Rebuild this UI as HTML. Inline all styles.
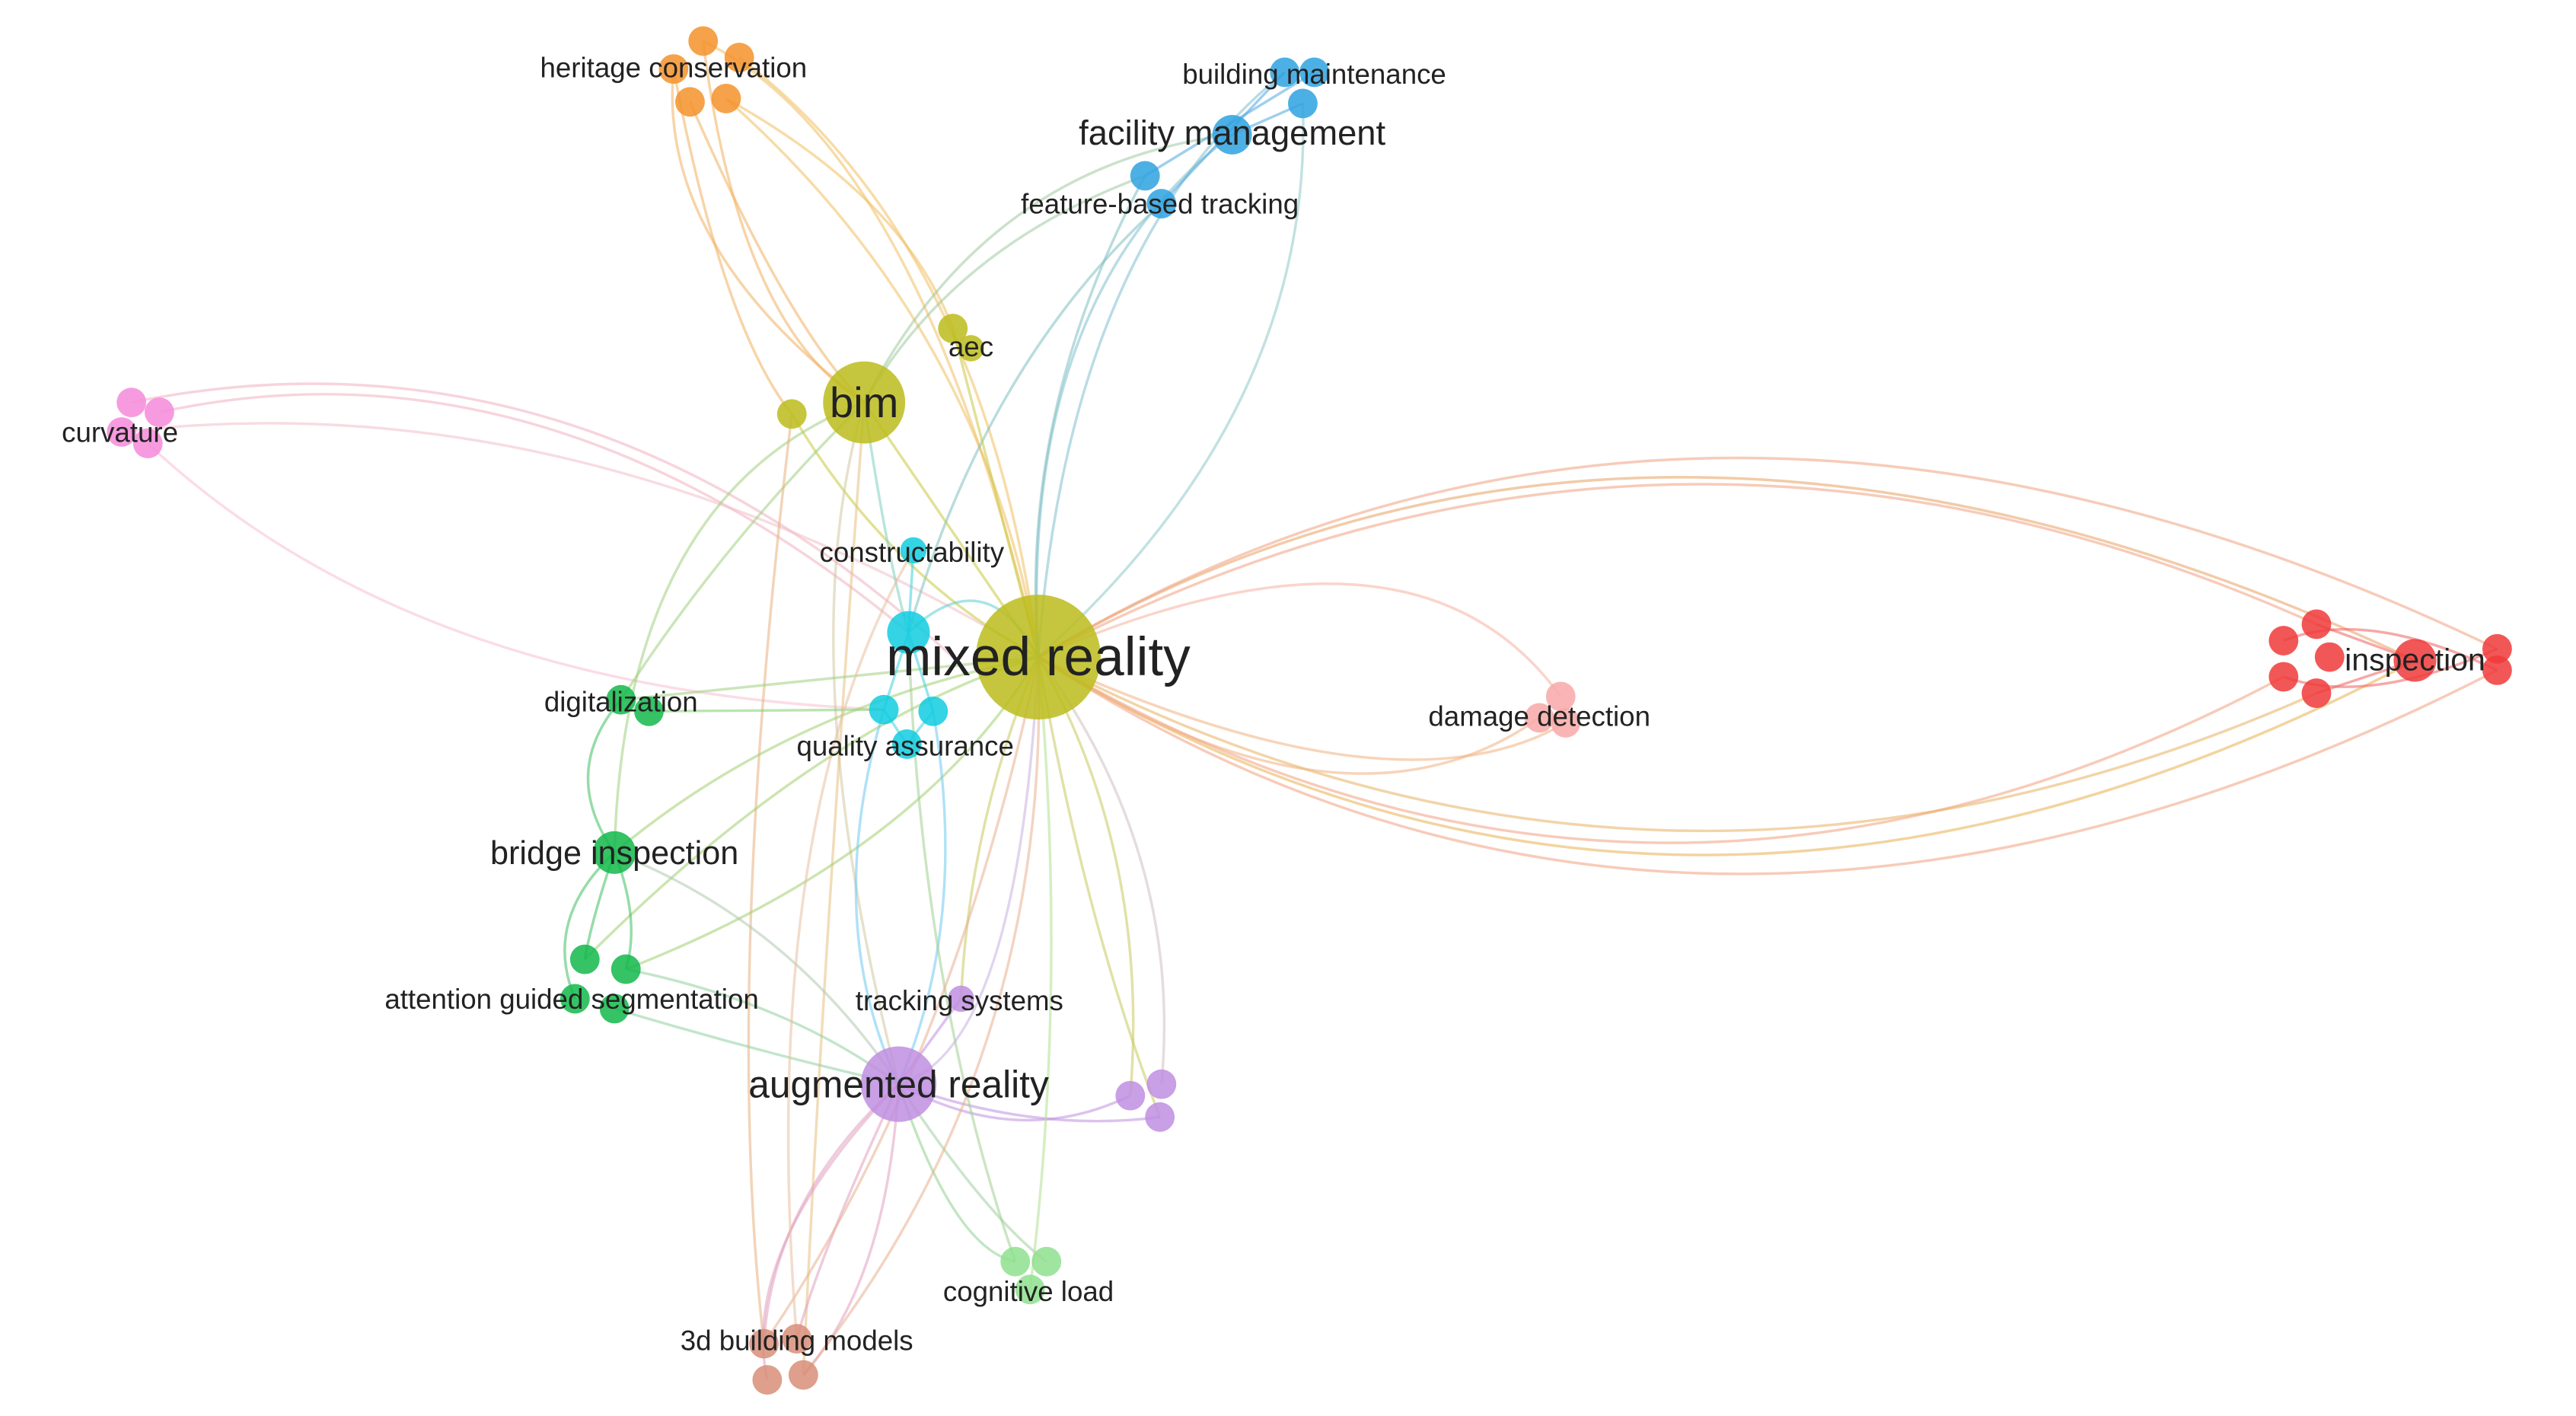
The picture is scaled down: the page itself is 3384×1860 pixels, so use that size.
<!DOCTYPE html>
<html><head><meta charset="utf-8"><style>
html,body{margin:0;padding:0;background:#fff;}
svg{display:block;}
text{font-family:"Liberation Sans",sans-serif;fill:#222;}
</style></head><body>
<svg width="3384" height="1860" viewBox="0 0 1568 862" preserveAspectRatio="none" xmlns="http://www.w3.org/2000/svg">
<g fill="none" stroke-width="1.6" stroke-opacity="0.55">
<path d="M632,400 Q1000,180 1470,402" stroke="#e8a060"/>
<path d="M632,400 Q1010,200 1410,380" stroke="#f0a080"/>
<path d="M632,400 Q1020,640 1470,402" stroke="#e8b050"/>
<path d="M632,400 Q1000,620 1390,412" stroke="#f0a080"/>
<path d="M632,400 Q1010,600 1410,422" stroke="#e8b060"/>
<path d="M632,400 Q1030,160 1520,395" stroke="#f0a080"/>
<path d="M632,400 Q1030,660 1520,408" stroke="#f0a080"/>
<path d="M632,400 Q860,300 950,424" stroke="#f5b0a0"/>
<path d="M632,400 Q820,520 937,437" stroke="#f0b080"/>
<path d="M632,400 Q850,500 953,440" stroke="#f0b080"/>
<path d="M1390,390 Q1440,370 1520,408" stroke="#f06060"/>
<path d="M1390,412 Q1440,430 1520,395" stroke="#f06060"/>
<path d="M1410,380 L1470,402" stroke="#f06060"/>
<path d="M1410,422 L1470,402" stroke="#f06060"/>
<path d="M80,245 Q350,190 580,400" stroke="#f0b0c0"/>
<path d="M97,251 Q330,200 553,385" stroke="#f0b0c0"/>
<path d="M90,270 Q250,420 538,432" stroke="#f8c0d0"/>
<path d="M74,263 Q350,230 632,400" stroke="#f0c0c8"/>
<path d="M428,25 Q450,200 526,245" stroke="#f0b060"/>
<path d="M450,35 Q600,150 632,400" stroke="#f0c060"/>
<path d="M410,42 Q440,200 482,252" stroke="#f0b060"/>
<path d="M420,62 Q480,200 526,245" stroke="#f0b060"/>
<path d="M442,60 Q600,200 632,400" stroke="#f0c060"/>
<path d="M442,60 Q550,120 580,200" stroke="#f0c060"/>
<path d="M428,25 Q560,90 632,400" stroke="#f0c060"/>
<path d="M410,42 Q400,150 526,245" stroke="#f0b060"/>
<path d="M782,44 Q650,150 632,400" stroke="#80c0d0"/>
<path d="M793,63 Q800,250 632,400" stroke="#90c8c8"/>
<path d="M750,82 Q620,180 632,400" stroke="#80c0d0"/>
<path d="M697,107 Q620,250 632,400" stroke="#80c0c0"/>
<path d="M707,124 Q600,220 553,385" stroke="#80c0c0"/>
<path d="M697,107 Q580,150 526,245" stroke="#a0c8a0"/>
<path d="M750,82 Q600,100 526,245" stroke="#a0c8a0"/>
<path d="M697,107 L800,44" stroke="#50a8e0"/>
<path d="M707,124 L782,44" stroke="#50a8e0"/>
<path d="M750,82 L793,63" stroke="#50a8e0"/>
<path d="M526,245 L632,400" stroke="#c8c840"/>
<path d="M482,252 Q540,350 632,400" stroke="#c8c840"/>
<path d="M580,200 L632,400" stroke="#c8c840"/>
<path d="M526,245 Q380,300 374,519" stroke="#a0d080"/>
<path d="M526,245 Q480,400 547,660" stroke="#d0c8a0"/>
<path d="M526,245 Q540,340 553,385" stroke="#80d0c0"/>
<path d="M526,245 Q440,330 378,426" stroke="#a0d080"/>
<path d="M482,252 Q440,600 465,818" stroke="#e8b080"/>
<path d="M526,245 Q500,600 489,837" stroke="#e8c080"/>
<path d="M378,426 L632,400" stroke="#a0d080"/>
<path d="M395,433 L538,432" stroke="#80d070"/>
<path d="M374,519 Q480,430 632,400" stroke="#a0d070"/>
<path d="M356,584 Q500,440 632,400" stroke="#a0d070"/>
<path d="M381,590 Q560,520 632,400" stroke="#a0d070"/>
<path d="M374,519 Q340,470 378,426" stroke="#40c060"/>
<path d="M374,519 Q330,560 350,608" stroke="#40c060"/>
<path d="M374,519 Q360,560 356,584" stroke="#40c060"/>
<path d="M374,519 Q390,560 381,590" stroke="#40c060"/>
<path d="M374,614 Q460,640 547,660" stroke="#90d0a0"/>
<path d="M374,519 Q480,560 547,660" stroke="#b0c8b0"/>
<path d="M381,590 Q480,610 547,660" stroke="#90d0a0"/>
<path d="M556,335 L553,385 L538,432 L552,453 L568,433 L553,385" stroke="#40d0e0"/>
<path d="M538,432 Q500,560 547,660" stroke="#70c8f0"/>
<path d="M568,433 Q590,560 547,660" stroke="#70c8f0"/>
<path d="M553,385 Q600,340 632,400" stroke="#60d0d0"/>
<path d="M547,660 Q620,640 632,400" stroke="#c8b0e0"/>
<path d="M585,608 Q590,500 632,400" stroke="#c8c860"/>
<path d="M688,667 Q700,520 632,400" stroke="#c8c860"/>
<path d="M707,660 Q720,520 632,400" stroke="#d0c0c0"/>
<path d="M706,680 Q660,560 632,400" stroke="#c8c860"/>
<path d="M547,660 Q620,700 688,667" stroke="#c090e0"/>
<path d="M547,660 Q630,690 706,680" stroke="#c090e0"/>
<path d="M547,660 L585,608" stroke="#c090e0"/>
<path d="M547,660 Q580,760 618,768" stroke="#90d090"/>
<path d="M547,660 Q600,740 637,768" stroke="#a0d0a0"/>
<path d="M627,785 Q650,600 632,400" stroke="#b0e090"/>
<path d="M618,768 Q560,600 553,385" stroke="#a0d090"/>
<path d="M547,660 Q470,730 465,818" stroke="#e0a0c0"/>
<path d="M547,660 Q500,760 485,815" stroke="#e0a0c0"/>
<path d="M547,660 Q540,780 489,837" stroke="#e0a0c0"/>
<path d="M547,660 Q450,760 467,840" stroke="#e0a0c0"/>
<path d="M465,818 Q580,650 632,400" stroke="#e8b090"/>
<path d="M489,837 Q640,650 632,400" stroke="#e8b090"/>
<path d="M485,815 Q460,500 556,335" stroke="#e8c0a0"/>
</g>
<g fill-opacity="0.85">
<circle cx="632" cy="400" r="38" fill="#bcbc1c"/>
<circle cx="526" cy="245" r="25" fill="#bcbc1c"/>
<circle cx="482" cy="252" r="9" fill="#bcbc1c"/>
<circle cx="580" cy="200" r="9" fill="#bcbc1c"/>
<circle cx="591" cy="212" r="8" fill="#bcbc1c"/>
<g fill="#f5922a"><circle cx="428" cy="25" r="9"/><circle cx="450" cy="35" r="9"/><circle cx="410" cy="42" r="9"/><circle cx="420" cy="62" r="9"/><circle cx="442" cy="60" r="9"/></g>
<g fill="#2ea2e0"><circle cx="782" cy="44" r="9"/><circle cx="800" cy="44" r="9"/><circle cx="793" cy="63" r="9"/><circle cx="750" cy="82" r="12"/><circle cx="697" cy="107" r="9"/><circle cx="707" cy="124" r="9"/></g>
<g fill="#f68ada"><circle cx="80" cy="245" r="9"/><circle cx="97" cy="251" r="9"/><circle cx="74" cy="263" r="9"/><circle cx="90" cy="270" r="9"/></g>
<g fill="#10cce0"><circle cx="556" cy="335" r="8"/><circle cx="553" cy="385" r="13"/><circle cx="538" cy="432" r="9"/><circle cx="568" cy="433" r="9"/><circle cx="552" cy="453" r="9"/></g>
<g fill="#12b84a"><circle cx="378" cy="426" r="9"/><circle cx="395" cy="433" r="9"/><circle cx="374" cy="519" r="13"/><circle cx="356" cy="584" r="9"/><circle cx="381" cy="590" r="9"/><circle cx="350" cy="608" r="9"/><circle cx="374" cy="614" r="9"/></g>
<g fill="#c08ee0"><circle cx="585" cy="608" r="8"/><circle cx="547" cy="660" r="23"/><circle cx="688" cy="667" r="9"/><circle cx="707" cy="660" r="9"/><circle cx="706" cy="680" r="9"/></g>
<g fill="#8ee08e"><circle cx="618" cy="768" r="9"/><circle cx="637" cy="768" r="9"/><circle cx="627" cy="785" r="9"/></g>
<g fill="#d88e78"><circle cx="465" cy="818" r="9"/><circle cx="485" cy="815" r="9"/><circle cx="467" cy="840" r="9"/><circle cx="489" cy="837" r="9"/></g>
<g fill="#f8a8a8"><circle cx="950" cy="424" r="9"/><circle cx="953" cy="440" r="9"/><circle cx="937" cy="437" r="9"/></g>
<g fill="#f03a3a"><circle cx="1390" cy="390" r="9"/><circle cx="1410" cy="380" r="9"/><circle cx="1390" cy="412" r="9"/><circle cx="1410" cy="422" r="9"/><circle cx="1418" cy="400" r="9"/><circle cx="1470" cy="402" r="13"/><circle cx="1520" cy="395" r="9"/><circle cx="1520" cy="408" r="9"/></g>
</g>
<g text-anchor="middle">
<text x="632" y="411" font-size="33">mixed reality</text>
<text x="526" y="254" font-size="26">bim</text>
<text x="591" y="217" font-size="17">aec</text>
<text x="410" y="47" font-size="17">heritage conservation</text>
<text x="800" y="51" font-size="17">building maintenance</text>
<text x="750" y="88" font-size="21">facility management</text>
<text x="706" y="130" font-size="17">feature-based tracking</text>
<text x="73" y="269" font-size="17">curvature</text>
<text x="555" y="342" font-size="17">constructability</text>
<text x="378" y="433" font-size="17">digitalization</text>
<text x="551" y="460" font-size="17">quality assurance</text>
<text x="937" y="442" font-size="17">damage detection</text>
<text x="1470" y="408" font-size="19">inspection</text>
<text x="374" y="526" font-size="20">bridge inspection</text>
<text x="348" y="614" font-size="17">attention guided segmentation</text>
<text x="584" y="615" font-size="17">tracking systems</text>
<text x="547" y="668" font-size="23">augmented reality</text>
<text x="626" y="792" font-size="17">cognitive load</text>
<text x="485" y="822" font-size="17">3d building models</text>
</g>
</svg>
</body></html>
